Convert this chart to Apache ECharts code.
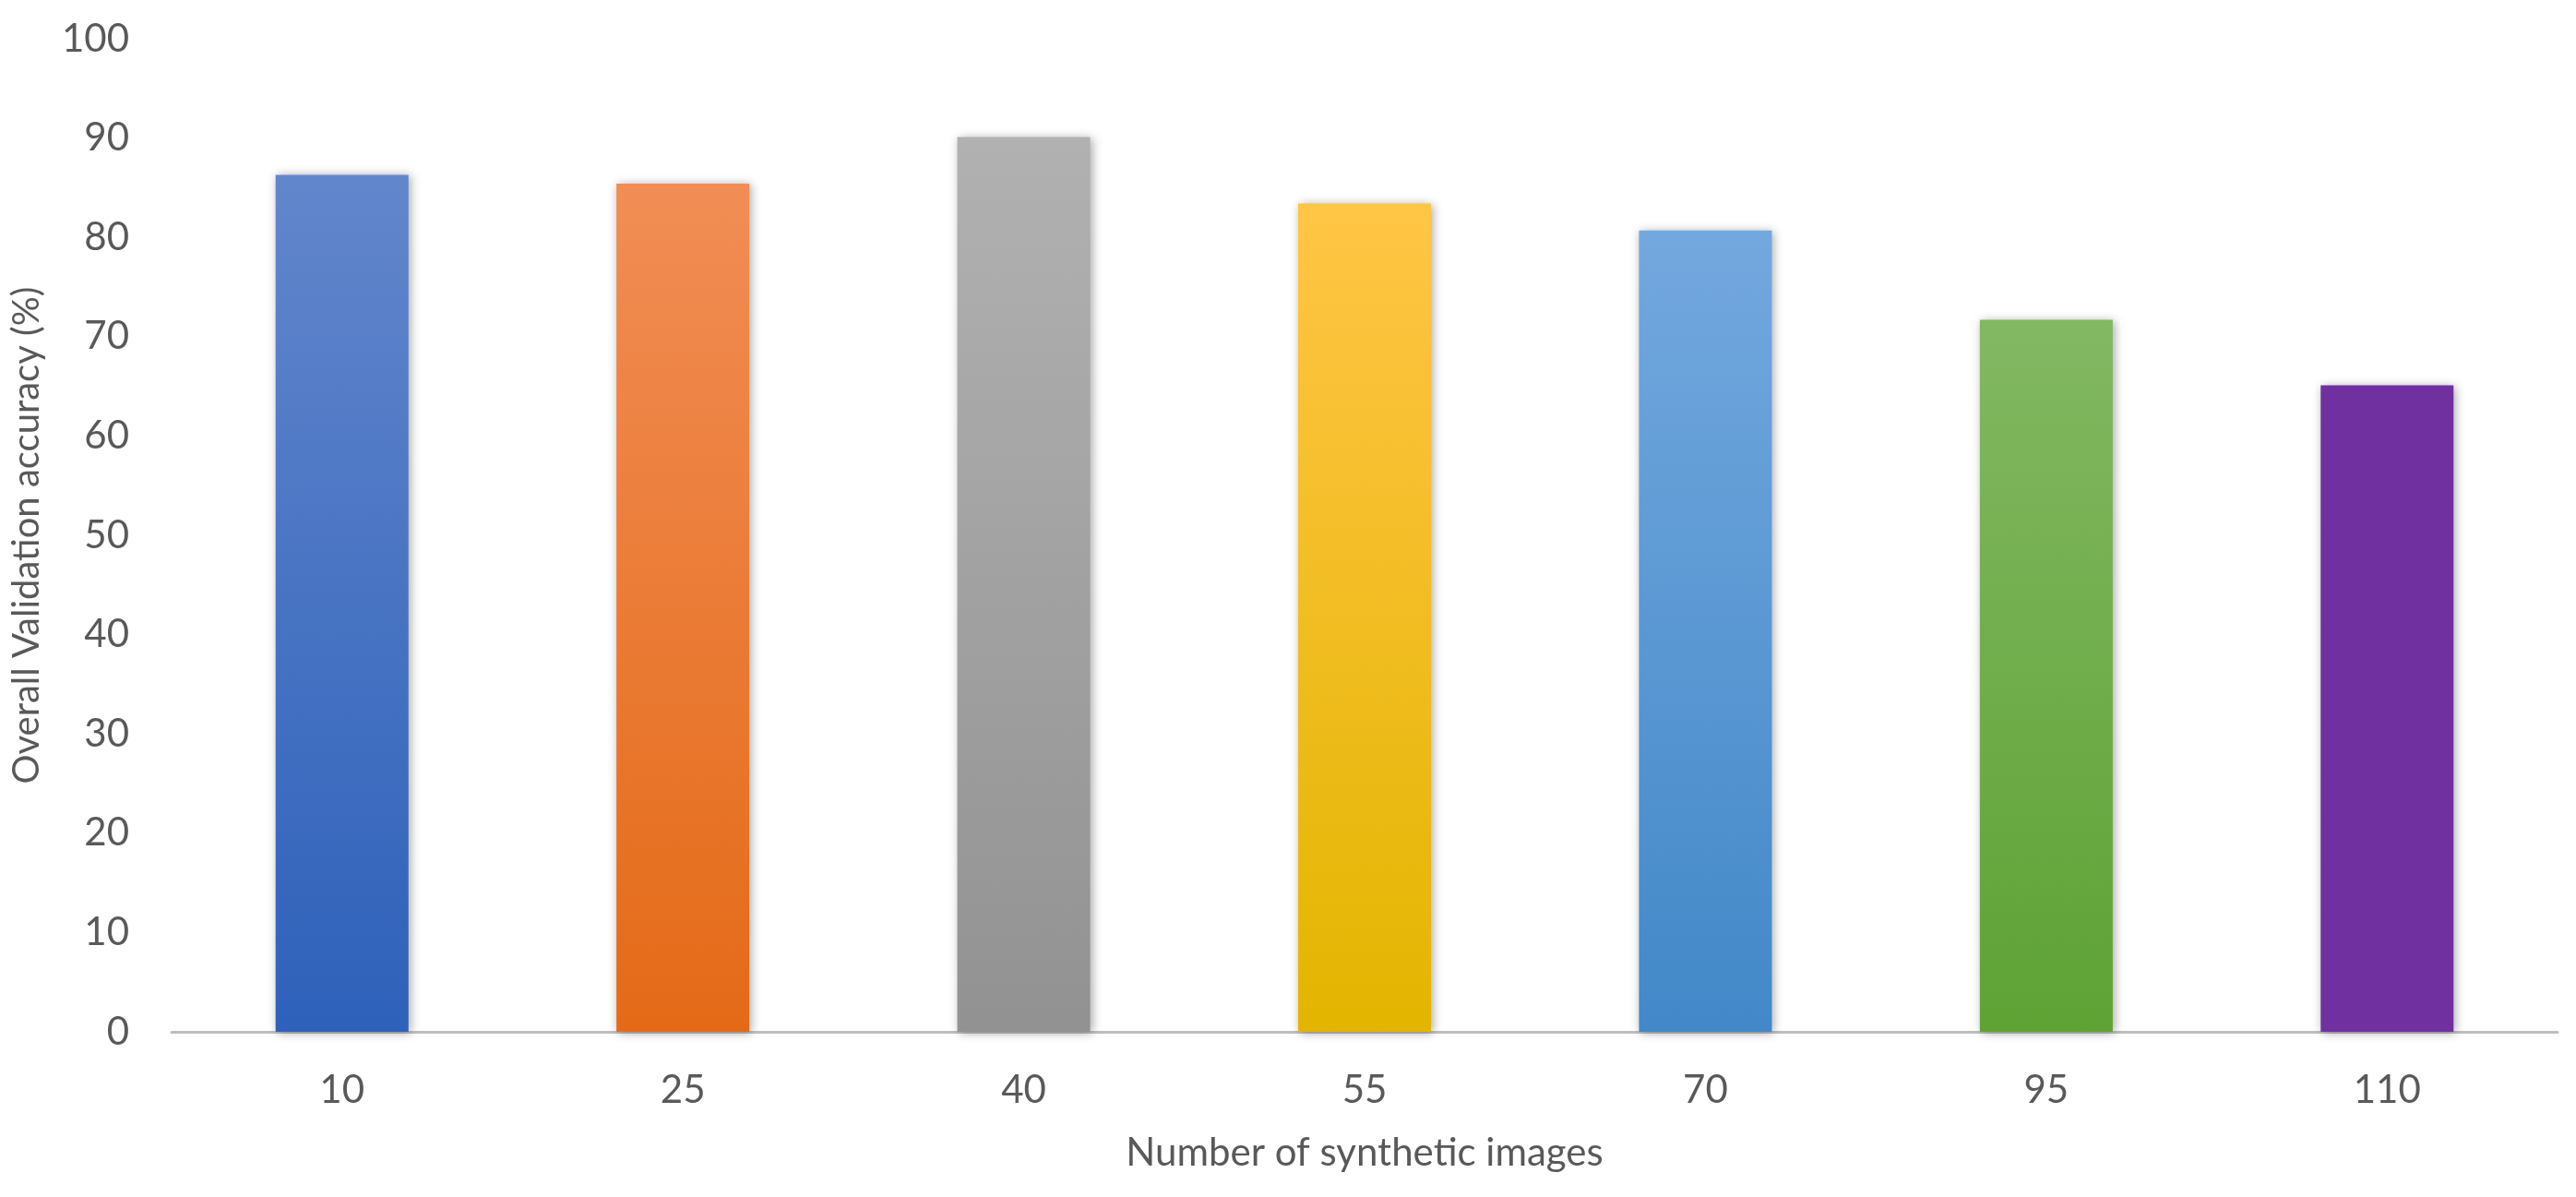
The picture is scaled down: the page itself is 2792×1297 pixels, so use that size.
<!DOCTYPE html>
<html>
<head>
    <meta charset="utf-8">
    <title>Validation accuracy</title>
    <script src="https://cdn.jsdelivr.net/npm/echarts@6/dist/echarts.min.js"></script>
    <style>
        html, body { margin: 0; padding: 0; background: #fff; }
        #main { width: 2792px; height: 1297px; }
    </style>
</head>
<body>
    <div id="main"></div>
    <script type="text/javascript">
        // data
        var categories = ['10', '25', '40', '55', '70', '95', '110'];
        var accuracy = [86.3, 85.4, 90.1, 83.4, 80.7, 71.7, 65.1];
        var yTicks = [0, 10, 20, 30, 40, 50, 60, 70, 80, 90, 100];

        // bar colours, top and bottom of the gradient
        var topColors = ['#6286CC', '#F18D55', '#B1B1B1', '#FFC545', '#73A8DE', '#82B862', '#7030A0'];
        var bottomColors = ['#2E61BA', '#E46A17', '#929292', '#E3B500', '#4288C8', '#5EA234', '#7030A0'];

        var fontName = 'Lato';
        var textColor = '#595959';

        var chart = echarts.init(document.getElementById('main'), null, { renderer: 'canvas' });

        var barData = accuracy.map(function (v, i) {
            return {
                value: v,
                itemStyle: {
                    color: new echarts.graphic.LinearGradient(0, 0, 0, 1, [
                        { offset: 0, color: topColors[i] },
                        { offset: 1, color: bottomColors[i] }
                    ])
                }
            };
        });

        var option = {
            animation: false,
            backgroundColor: '#ffffff',
            grid: {
                left: 186,
                right: 20,
                top: 42,
                bottom: 179,
                containLabel: false
            },
            xAxis: {
                type: 'category',
                data: categories,
                name: 'Number of synthetic images',
                nameLocation: 'middle',
                nameGap: 110,
                nameTextStyle: { fontFamily: fontName, fontSize: 42, color: textColor },
                axisLine: { show: true, lineStyle: { color: '#BFBFBF', width: 3 } },
                axisTick: { show: false },
                axisLabel: { fontFamily: fontName, fontSize: 42, color: textColor, margin: 42 }
            },
            yAxis: {
                type: 'value',
                min: yTicks[0],
                max: yTicks[yTicks.length - 1],
                interval: 10,
                name: 'Overall Validation accuracy (%)',
                nameLocation: 'middle',
                nameGap: 137,
                nameRotate: 90,
                nameTextStyle: { fontFamily: fontName, fontSize: 40, color: textColor },
                axisLine: { show: false },
                axisTick: { show: false },
                splitLine: { show: false },
                axisLabel: { fontFamily: fontName, fontSize: 42, color: textColor, margin: 46 }
            },
            series: [{
                type: 'bar',
                data: barData,
                barWidth: 144,
                itemStyle: {
                    shadowBlur: 10,
                    shadowColor: 'rgba(0,0,0,0.35)',
                    shadowOffsetX: 2,
                    shadowOffsetY: 1
                }
            }]
        };

        chart.setOption(option);
    </script>
</body>
</html>
